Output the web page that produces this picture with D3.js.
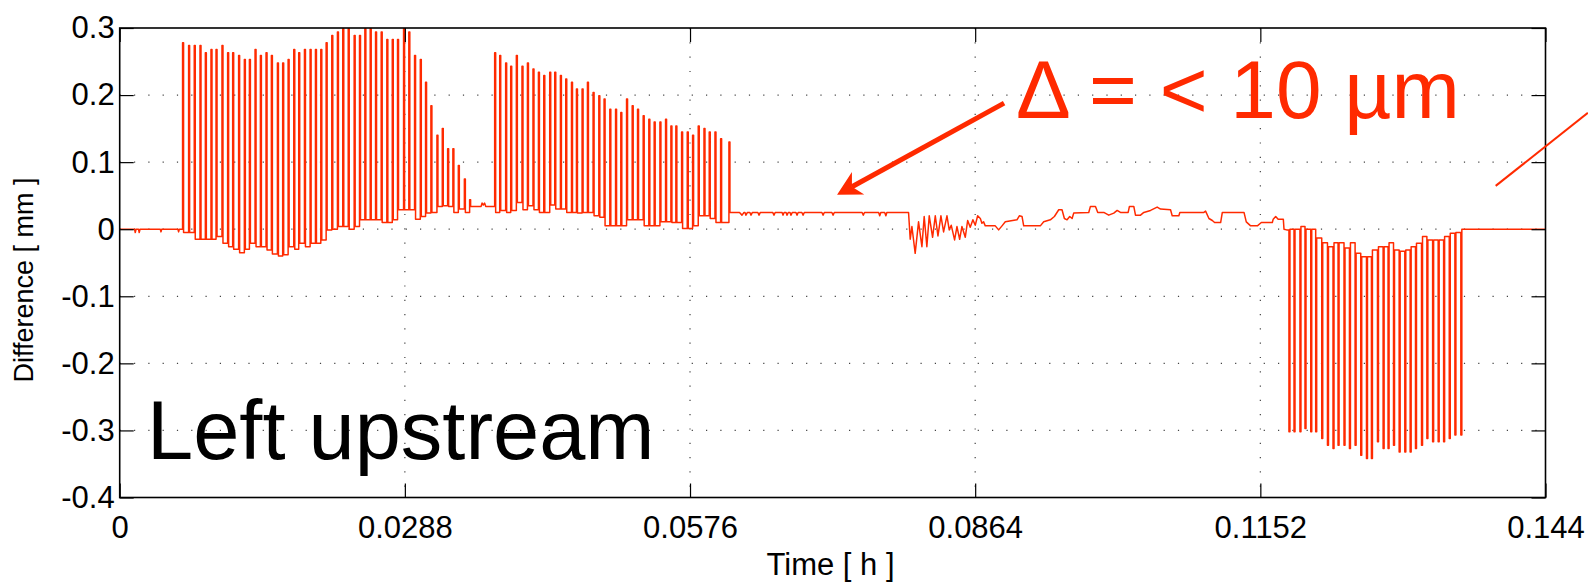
<!DOCTYPE html>
<html>
<head>
<meta charset="utf-8">
<script src="https://cdn.jsdelivr.net/npm/d3@7"></script>
<style>
  body { margin: 0; background: #fff; }
  text { font-family: "Liberation Sans", Arial, Helvetica, sans-serif; }
</style>
</head>
<body>
<svg id="chart"></svg>
<script>
// ---- data (time in h, difference in mm) ----
const xTicks = [0, 0.0288, 0.0576, 0.0864, 0.1152, 0.144];
const xTickLabels = ["0", "0.0288", "0.0576", "0.0864", "0.1152", "0.144"];
const yTicks = [-0.4, -0.3, -0.2, -0.1, 0, 0.1, 0.2, 0.3];
const yTickLabels = ["-0.4", "-0.3", "-0.2", "-0.1", "0", "0.1", "0.2", "0.3"];

// quiet start
const leadT = [0, 0.00150, 0.00157, 0.00165, 0.00190, 0.00197, 0.00205, 0.00410, 0.00417, 0.00424, 0.00588, 0.00595, 0.00602, 0.00625];
const leadV = [0, 0, -0.005, 0, 0, -0.005, 0, 0, -0.004, 0, 0, -0.004, 0, 0];

// first burst of positive spikes: spike time, peak, level after the spike
const burst1T = [0.00635, 0.00696, 0.00753, 0.00811, 0.00865, 0.00922, 0.00973, 0.01033, 0.01090, 0.01141,
  0.01201, 0.01259, 0.01310, 0.01367, 0.01421, 0.01478, 0.01532, 0.01593, 0.01646, 0.01701,
  0.01758, 0.01808, 0.01866, 0.01923, 0.01977, 0.02031, 0.02085, 0.02142, 0.02199, 0.02253,
  0.02308, 0.02368, 0.02422, 0.02476, 0.02530, 0.02584, 0.02641, 0.02698, 0.02753, 0.02806,
  0.02867, 0.02920, 0.02978, 0.03036, 0.03089, 0.03143, 0.03204, 0.03258, 0.03312, 0.03365,
  0.03420, 0.03481, 0.03534];
const burst1Peak = [0.278, 0.274, 0.274, 0.274, 0.263, 0.268, 0.268, 0.274, 0.263, 0.263,
  0.259, 0.253, 0.253, 0.268, 0.259, 0.263, 0.259, 0.248, 0.248, 0.253,
  0.268, 0.263, 0.268, 0.268, 0.268, 0.268, 0.278, 0.289, 0.294, 0.299,
  0.299, 0.289, 0.289, 0.299, 0.299, 0.294, 0.294, 0.283, 0.283, 0.283,
  0.299, 0.294, 0.259, 0.253, 0.219, 0.184, 0.140, 0.150, 0.120, 0.120,
  0.095, 0.075, 0.044];
const burst1Base = [-0.005, -0.005, -0.015, -0.015, -0.015, -0.015, -0.011, -0.021, -0.026, -0.030,
  -0.035, -0.030, -0.021, -0.026, -0.026, -0.031, -0.037, -0.040, -0.038, -0.026,
  -0.030, -0.021, -0.026, -0.021, -0.021, -0.016, -0.001, 0.000, 0.004, 0.004,
  0.000, 0.004, 0.014, 0.014, 0.014, 0.014, 0.010, 0.010, 0.014, 0.029,
  0.029, 0.029, 0.015, 0.019, 0.024, 0.025, 0.034, 0.035, 0.034, 0.025,
  0.030, 0.025, 0.034];

// short pause between bursts
const gap1T = [0.03650, 0.03660, 0.03672, 0.03685, 0.03697, 0.03780];
const gap1V = [0.034, 0.039, 0.036, 0.039, 0.034, 0.034];

// second burst of positive spikes
const burst2T = [0.03787, 0.03838, 0.03898, 0.03949, 0.04006, 0.04063, 0.04118, 0.04174, 0.04229, 0.04283,
  0.04343, 0.04394, 0.04451, 0.04505, 0.04563, 0.04613, 0.04670, 0.04724, 0.04781, 0.04839,
  0.04892, 0.04950, 0.05008, 0.05061, 0.05119, 0.05176, 0.05230, 0.05287, 0.05344, 0.05398,
  0.05456, 0.05513, 0.05567, 0.05617, 0.05675, 0.05732, 0.05786, 0.05843, 0.05901, 0.05954,
  0.06012, 0.06069, 0.06153];
const burst2Peak = [0.263, 0.259, 0.248, 0.243, 0.259, 0.243, 0.248, 0.239, 0.234, 0.229,
  0.234, 0.234, 0.229, 0.224, 0.219, 0.209, 0.209, 0.219, 0.204, 0.199,
  0.194, 0.179, 0.179, 0.174, 0.194, 0.184, 0.179, 0.169, 0.164, 0.160,
  0.160, 0.164, 0.154, 0.154, 0.145, 0.145, 0.140, 0.154, 0.150, 0.145,
  0.145, 0.135, 0.130];
const burst2Base = [0.025, 0.028, 0.025, 0.028, 0.040, 0.029, 0.035, 0.029, 0.025, 0.025,
  0.036, 0.030, 0.030, 0.025, 0.025, 0.024, 0.025, 0.025, 0.020, 0.018,
  0.005, 0.005, 0.005, 0.005, 0.014, 0.014, 0.014, 0.005, 0.005, 0.005,
  0.011, 0.011, 0.010, 0.010, 0.001, 0.001, 0.005, 0.020, 0.020, 0.016,
  0.010, 0.010, 0.025];

// the quiet middle part, with the small ripple around 0.08 h
const quietT = [0.06260, 0.06285, 0.06305, 0.06315, 0.06325, 0.06340, 0.06365, 0.06376, 0.06390, 0.06445,
  0.06457, 0.06470, 0.06595, 0.06608, 0.06620, 0.06690, 0.06699, 0.06710, 0.06730, 0.06740,
  0.06752, 0.06770, 0.06780, 0.06792, 0.06830, 0.06841, 0.06852, 0.06890, 0.06902, 0.06914,
  0.07092, 0.07104, 0.07116, 0.07193, 0.07205, 0.07217, 0.07498, 0.07510, 0.07522, 0.07665,
  0.07676, 0.07687, 0.07726, 0.07738, 0.07748, 0.07967,
  0.07984, 0.08001, 0.08034, 0.08068, 0.08102, 0.08125, 0.08152, 0.08176, 0.08210, 0.08237,
  0.08264, 0.08294, 0.08321, 0.08355, 0.08378, 0.08398, 0.08432, 0.08456, 0.08483, 0.08506,
  0.08540, 0.08564, 0.08590, 0.08617, 0.08641, 0.08665, 0.08692, 0.08708, 0.08725, 0.08742,
  0.08843, 0.08877, 0.08911, 0.08944, 0.09062, 0.09086, 0.09113, 0.09130, 0.09298, 0.09332,
  0.09399, 0.09440, 0.09484, 0.09517, 0.09541, 0.09568, 0.09595, 0.09619, 0.09635, 0.09787,
  0.09804, 0.09855, 0.09878, 0.09939, 0.09989, 0.10040, 0.10074, 0.10107, 0.10185, 0.10198,
  0.10242, 0.10259, 0.10310, 0.10343, 0.10411, 0.10478, 0.10512, 0.10613, 0.10630, 0.10697,
  0.10707, 0.10950, 0.10967, 0.11001, 0.11035, 0.11058, 0.11119, 0.11136, 0.11355, 0.11378,
  0.11422, 0.11490, 0.11530, 0.11641, 0.11650, 0.11675, 0.11700, 0.11752, 0.11759, 0.11786];
const quietV = [0.025, 0.021, 0.025, 0.025, 0.021, 0.025, 0.025, 0.021, 0.025, 0.025,
  0.021, 0.025, 0.025, 0.021, 0.025, 0.025, 0.021, 0.025, 0.025, 0.021,
  0.025, 0.025, 0.021, 0.025, 0.025, 0.021, 0.025, 0.025, 0.021, 0.025,
  0.025, 0.021, 0.025, 0.025, 0.021, 0.025, 0.025, 0.021, 0.025, 0.025,
  0.020, 0.025, 0.025, 0.020, 0.025, 0.025,
  -0.015, 0.004, -0.036, 0.011, -0.026, 0.019, -0.026, 0.020, -0.012, 0.020,
  -0.010, 0.020, -0.004, 0.020, -0.001, 0.006, -0.016, 0.004, -0.015, 0.004,
  -0.012, 0.013, 0.003, 0.014, 0.006, 0.020, 0.016, 0.009, 0.011, 0.005,
  0.005, -0.001, 0.005, 0.011, 0.014, 0.020, 0.019, 0.005, 0.005, 0.011,
  0.014, 0.019, 0.029, 0.029, 0.016, 0.014, 0.019, 0.016, 0.024, 0.025,
  0.034, 0.034, 0.025, 0.025, 0.021, 0.024, 0.028, 0.025, 0.025, 0.034,
  0.034, 0.021, 0.021, 0.025, 0.028, 0.033, 0.030, 0.029, 0.020, 0.020,
  0.025, 0.025, 0.027, 0.016, 0.013, 0.010, 0.010, 0.025, 0.025, 0.011,
  0.005, 0.005, 0.010, 0.010, 0.015, 0.019, 0.015, 0.015, 0.000, -0.001];

// third burst: negative spikes, tip value and level after the spike
const burst3T = [0.11809, 0.11860, 0.11920, 0.11971, 0.12029, 0.12079, 0.12140, 0.12198, 0.12254, 0.12305,
  0.12365, 0.12420, 0.12477, 0.12534, 0.12592, 0.12642, 0.12703, 0.12760, 0.12810, 0.12865,
  0.12922, 0.12979, 0.13033, 0.13087, 0.13148, 0.13202, 0.13260, 0.13316, 0.13371, 0.13428,
  0.13485, 0.13545];
const burst3Tip = [-0.302, -0.302, -0.302, -0.297, -0.302, -0.302, -0.312, -0.322, -0.327, -0.322,
  -0.322, -0.327, -0.322, -0.337, -0.342, -0.342, -0.317, -0.327, -0.327, -0.322,
  -0.332, -0.332, -0.332, -0.327, -0.322, -0.312, -0.317, -0.317, -0.317, -0.312,
  -0.307, -0.307];
const burst3Base = [0.000, 0.000, 0.004, 0.000, 0.000, -0.013, -0.020, -0.026, -0.020, -0.020,
  -0.028, -0.020, -0.036, -0.041, -0.041, -0.031, -0.026, -0.026, -0.020, -0.031,
  -0.033, -0.031, -0.026, -0.021, -0.011, -0.016, -0.016, -0.016, -0.011, -0.006,
  -0.005, 0.000];

const tailT = [0.13570, 0.144];
const tailV = [0.000, 0.000];

// annotations (data units)
const arrowFrom = [0.08932, 0.188];
const arrowTo = [0.07245, 0.0512];
const sideLineFrom = [0.13897, 0.0646];
const sideLineTo = [0.14828, 0.1736];

// ---- layout ----
const SVG_WIDTH = 1588, SVG_HEIGHT = 583;
const MARGIN = { top: 28, right: 42.5, bottom: 85.5, left: 119.7 };
const width = SVG_WIDTH - MARGIN.left - MARGIN.right;
const height = SVG_HEIGHT - MARGIN.top - MARGIN.bottom;
const RED = "#ff2a00";
const PULSE = 0.0001; // width of a spike in h

const svg = d3.select("#chart").attr("width", SVG_WIDTH).attr("height", SVG_HEIGHT);
const g = svg.append("g").attr("transform", "translate(" + MARGIN.left + "," + MARGIN.top + ")");

const x = d3.scaleLinear().domain([0, 0.144]).range([0, width]);
const y = d3.scaleLinear().domain([-0.4, 0.3]).range([height, 0]);

// dotted grid
g.append("g").selectAll("line").data(xTicks.slice(1, -1)).enter().append("line")
  .attr("x1", d => x(d)).attr("x2", d => x(d)).attr("y1", 0).attr("y2", height)
  .attr("stroke", "#444").attr("stroke-width", 1.2).attr("stroke-dasharray", "1.2,13.1");
g.append("g").selectAll("line").data(yTicks.slice(1, -1)).enter().append("line")
  .attr("x1", 0).attr("x2", width).attr("y1", d => y(d)).attr("y2", d => y(d))
  .attr("stroke", "#444").attr("stroke-width", 1.2).attr("stroke-dasharray", "1.2,13.1");

// build the signal
const pts = [];
leadT.forEach((t, i) => pts.push([t, leadV[i]]));
function addPulses(ts, tips, bases) {
  ts.forEach((t, i) => {
    const prev = pts[pts.length - 1][1];
    pts.push([t, prev], [t, tips[i]], [t + PULSE, tips[i]], [t + PULSE, bases[i]]);
  });
}
addPulses(burst1T, burst1Peak, burst1Base);
gap1T.forEach((t, i) => pts.push([t, gap1V[i]]));
addPulses(burst2T, burst2Peak, burst2Base);
quietT.forEach((t, i) => pts.push([t, quietV[i]]));
addPulses(burst3T, burst3Tip, burst3Base);
tailT.forEach((t, i) => pts.push([t, tailV[i]]));

g.append("clipPath").attr("id", "plotclip").append("rect")
  .attr("x", 0).attr("y", -1).attr("width", width).attr("height", height + 2);

const line = d3.line().x(d => x(d[0])).y(d => y(d[1]));
g.append("path").datum(pts)
  .attr("clip-path", "url(#plotclip)")
  .attr("fill", "none").attr("stroke", RED).attr("stroke-width", 1.5)
  .attr("stroke-linejoin", "round")
  .attr("d", line);

// axes with inward ticks on all four sides
const TICK = 14;
g.append("g").attr("transform", "translate(0," + height + ")")
  .call(d3.axisBottom(x).tickValues(xTicks).tickSizeInner(-TICK).tickSizeOuter(0).tickPadding(18)
    .tickFormat((d, i) => xTickLabels[i]));
g.append("g")
  .call(d3.axisTop(x).tickValues(xTicks).tickSizeInner(-TICK).tickSizeOuter(0).tickFormat(""));
g.append("g")
  .call(d3.axisLeft(y).tickValues(yTicks).tickSizeInner(-TICK).tickSizeOuter(0).tickPadding(5)
    .tickFormat((d, i) => yTickLabels[i]));
g.append("g").attr("transform", "translate(" + width + ",0)")
  .call(d3.axisRight(y).tickValues(yTicks).tickSizeInner(-TICK).tickSizeOuter(0).tickFormat(""));

g.selectAll(".domain").remove();
g.selectAll(".tick line").attr("stroke", "#000").attr("stroke-width", 1.2);
g.selectAll(".tick text").attr("font-size", 31).attr("fill", "#000")
  .attr("font-family", "'Liberation Sans', Arial, sans-serif");

g.append("rect").attr("x", 0).attr("y", 0).attr("width", width).attr("height", height)
  .attr("fill", "none").attr("stroke", "#000").attr("stroke-width", 1.6);

// axis titles
svg.append("text").attr("x", 830.5).attr("y", 575)
  .attr("text-anchor", "middle").attr("font-size", 31).text("Time [ h ]");
svg.append("text").attr("transform", "translate(33,280) rotate(-90)")
  .attr("text-anchor", "middle").attr("font-size", 27).text("Difference [ mm ]");

// annotations
svg.append("text").attr("x", 147).attr("y", 459).attr("font-size", 83).attr("fill", "#000")
  .text("Left upstream");
svg.append("text").attr("x", 1016).attr("y", 117.5).attr("font-size", 82).attr("fill", RED)
  .text("\u0394 = < 10 \u00b5m");

const ann = svg.append("g").attr("transform", "translate(" + MARGIN.left + "," + MARGIN.top + ")");
const ax0 = x(arrowFrom[0]), ay0 = y(arrowFrom[1]), ax1 = x(arrowTo[0]), ay1 = y(arrowTo[1]);
const len = Math.hypot(ax1 - ax0, ay1 - ay0);
const ux = (ax1 - ax0) / len, uy = (ay1 - ay0) / len;
const HEAD_L = 24, HEAD_W = 12.8, NOTCH = 17;
ann.append("line")
  .attr("x1", ax0).attr("y1", ay0)
  .attr("x2", ax1 - ux * NOTCH).attr("y2", ay1 - uy * NOTCH)
  .attr("stroke", RED).attr("stroke-width", 5);
const head = [
  [ax1, ay1],
  [ax1 - ux * HEAD_L - uy * HEAD_W, ay1 - uy * HEAD_L + ux * HEAD_W],
  [ax1 - ux * NOTCH, ay1 - uy * NOTCH],
  [ax1 - ux * HEAD_L + uy * HEAD_W, ay1 - uy * HEAD_L - ux * HEAD_W]
];
ann.append("path").attr("d", "M" + head.map(p => p.join(",")).join("L") + "Z").attr("fill", RED);

ann.append("line")
  .attr("x1", x(sideLineFrom[0])).attr("y1", y(sideLineFrom[1]))
  .attr("x2", x(sideLineTo[0])).attr("y2", y(sideLineTo[1]))
  .attr("stroke", RED).attr("stroke-width", 2);
</script>
</body>
</html>
